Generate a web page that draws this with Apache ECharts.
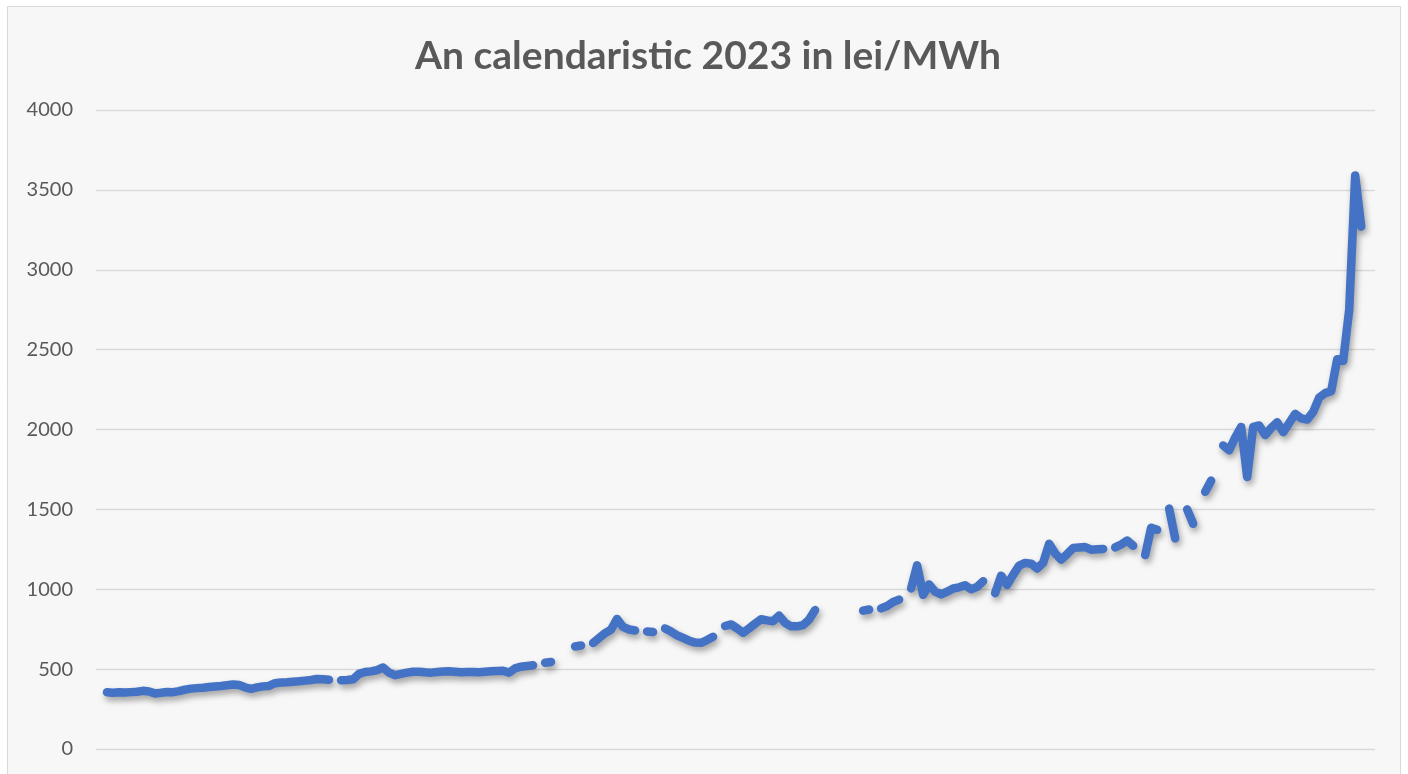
<!DOCTYPE html>
<html>
<head>
<meta charset="utf-8">
<script src="https://cdn.jsdelivr.net/npm/echarts@6/dist/echarts.min.js"></script>
<style>
html,body{margin:0;padding:0;background:#ffffff;}
#chart{width:1408px;height:774px;}
</style>
</head>
<body>
<div id="chart"></div>
<script>
const titleText = 'An calendaristic 2023 in lei/MWh';
const yTicks = { min: 0, max: 4000, step: 500 };
// daily price (lei/MWh), null = no value (gap in the line)
const prices = [
 355,352,355,354,356,358,364,360,348,352,
 357,356,362,372,378,381,384,388,391,394,
 399,404,400,386,377,386,392,395,412,416,
 418,421,424,428,432,438,436,433,null,430,
 432,436,470,482,486,494,510,478,462,470,
 478,484,484,480,478,482,485,486,484,480,
 482,482,481,484,486,488,490,478,505,515,
 520,524,null,540,545,null,null,null,642,648,
 null,663,695,725,748,814,764,748,742,null,
 735,732,null,755,735,712,695,678,666,665,
 682,702,null,770,780,755,728,755,785,812,
 805,800,835,790,768,768,776,810,870,null,
 null,null,null,null,null,null,866,873,null,880,
 895,920,935,null,1005,1150,965,1030,985,968,
 985,1005,1012,1025,1000,1015,1050,null,975,1085,
 1027,1090,1148,1165,1160,1130,1165,1285,1225,1185,
 1220,1258,1262,1264,1248,1250,1252,null,1262,1280,
 1305,1272,null,1214,1385,1372,null,1505,1318,null,
 1500,1410,null,1610,1680,null,1900,1870,1950,2016,
 1703,2016,2025,1965,2010,2045,1984,2040,2098,2070,
 2062,2110,2200,2228,2240,2440,2430,2750,3590,3270
];
const dayIndex = prices.map((_, i) => i);

const chart = echarts.init(document.getElementById('chart'));
chart.setOption({
  animation: false,
  backgroundColor: '#ffffff',
  graphic: [{
    type: 'rect', z: -10, silent: true,
    shape: { x: 7.5, y: 6.5, width: 1393, height: 780 },
    style: { fill: '#f7f7f7', stroke: '#d9d9d9', lineWidth: 1 }
  }],
  title: {
    text: titleText,
    left: 703, top: 32, textAlign: 'center',
    textStyle: { fontFamily: 'Lato', fontWeight: 'bold', fontSize: 39, color: '#595959' }
  },
  grid: { left: 96, right: 33, top: 110, bottom: 25, containLabel: false },
  xAxis: {
    type: 'value', min: -1.83, max: 211.3, show: false
  },
  yAxis: {
    type: 'value', min: yTicks.min, max: yTicks.max, interval: yTicks.step,
    axisLine: { show: false }, axisTick: { show: false },
    axisLabel: { color: '#595959', fontFamily: 'Lato', fontSize: 20, margin: 23,
      formatter: v => String(v) },
    splitLine: { lineStyle: { color: '#d9d9d9', width: 1.3 } }
  },
  series: [{
    type: 'line',
    data: dayIndex.map(i => [i, prices[i] === null ? '-' : prices[i]]),
    showSymbol: false,
    connectNulls: false,
    lineStyle: {
      color: '#4472C4', width: 8.5, cap: 'round', join: 'round',
      shadowColor: 'rgba(0,0,0,0.35)', shadowBlur: 6, shadowOffsetX: 2, shadowOffsetY: 4
    },
    itemStyle: { color: '#4472C4' }
  }]
});
</script>
</body>
</html>
